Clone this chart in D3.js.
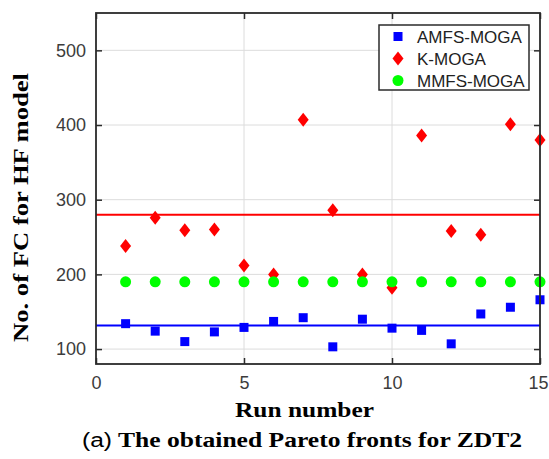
<!DOCTYPE html>
<html>
<head>
<meta charset="utf-8">
<script src="https://cdn.jsdelivr.net/npm/d3@7"></script>
<style>
  body { margin: 0; background: #fff; }
  svg { display: block; }
</style>
</head>
<body>
<svg id="chart" width="549" height="459"></svg>
<script>
// run numbers and values
const runs = [1, 2, 3, 4, 5, 6, 7, 8, 9, 10, 11, 12, 13, 14, 15];
const amfs = [134, 124, 110, 123, 129, 137, 142, 103, 140, 128, 125, 107, 147, 156, 166];
const kmoga = [238, 276, 259, 260, 212, 200, 407, 286, 200, 182, 386, 258, 253, 401, 380];
const mmfs = [190, 190, 190, 190, 190, 190, 190, 190, 190, 190, 190, 190, 190, 190, 190];
const xTicks = [0, 5, 10, 15];
const yTicks = [100, 200, 300, 400, 500];
const legendNames = ["AMFS-MOGA", "K-MOGA", "MMFS-MOGA"];

const plotL = 96, plotR = 540, plotT = 13, plotB = 364;
const svg = d3.select("#chart");

const x = d3.scaleLinear().domain([0, 15]).range([plotL, plotR]);
const y = d3.scaleLinear().domain([80, 550]).range([plotB, plotT]);

// grid
svg.append("g").selectAll("line")
  .data(yTicks)
  .join("line")
  .attr("x1", plotL).attr("x2", plotR)
  .attr("y1", d => y(d)).attr("y2", d => y(d))
  .attr("stroke", "#dcdcdc").attr("stroke-width", 1);
svg.append("g").selectAll("line")
  .data(xTicks.slice(1, -1))
  .join("line")
  .attr("x1", d => x(d)).attr("x2", d => x(d))
  .attr("y1", plotT).attr("y2", plotB)
  .attr("stroke", "#dcdcdc").attr("stroke-width", 1);

// axes, ticks pointing inward
const axisColor = "#2b2b2b";
const sans = "'Liberation Sans', Arial, sans-serif";
function styleAxis(g) {
  g.select(".domain").remove();
  g.selectAll(".tick line").attr("stroke", axisColor).attr("stroke-width", 1.5);
  g.selectAll(".tick text")
    .attr("fill", "#3c3c3c")
    .style("font-family", sans)
    .style("font-size", "18px");
}
svg.append("g")
  .attr("transform", `translate(${plotL},0)`)
  .call(d3.axisLeft(y).tickValues(yTicks).tickSizeInner(-6).tickSizeOuter(0).tickPadding(10))
  .call(styleAxis);
svg.append("g")
  .attr("transform", `translate(${plotR},0)`)
  .call(d3.axisRight(y).tickValues(yTicks).tickSizeInner(-6).tickSizeOuter(0).tickFormat(""))
  .call(styleAxis);
const xAxis = svg.append("g")
  .attr("transform", `translate(0,${plotB})`)
  .call(d3.axisBottom(x).tickValues(xTicks).tickSizeInner(-6).tickSizeOuter(0).tickPadding(12))
  .call(styleAxis);
// last label sits at the figure edge; keep it inside
xAxis.selectAll(".tick text").filter(d => d === 15)
  .attr("text-anchor", "end").attr("dx", 8);
svg.append("g")
  .attr("transform", `translate(0,${plotT})`)
  .call(d3.axisTop(x).tickValues(xTicks).tickSizeInner(-6).tickSizeOuter(0).tickFormat(""))
  .call(styleAxis);

// markers
svg.append("g").selectAll("rect")
  .data(runs)
  .join("rect")
  .attr("x", (d, i) => x(d) - 4.5)
  .attr("y", (d, i) => y(amfs[i]) - 4.5)
  .attr("width", 9).attr("height", 9)
  .attr("fill", "#0000ff");

svg.append("g").selectAll("path")
  .data(runs)
  .join("path")
  .attr("d", (d, i) => {
    const cx = x(d), cy = y(kmoga[i]);
    return `M${cx},${cy - 7}L${cx + 5.5},${cy}L${cx},${cy + 7}L${cx - 5.5},${cy}Z`;
  })
  .attr("fill", "#ff0000");

svg.append("g").selectAll("circle")
  .data(runs)
  .join("circle")
  .attr("cx", d => x(d))
  .attr("cy", (d, i) => y(mmfs[i]))
  .attr("r", 5.5)
  .attr("fill", "#00ff00");

// mean lines
svg.append("line")
  .attr("x1", plotL).attr("x2", plotR)
  .attr("y1", y(d3.mean(kmoga))).attr("y2", y(d3.mean(kmoga)))
  .attr("stroke", "#ff0000").attr("stroke-width", 2);
svg.append("line")
  .attr("x1", plotL).attr("x2", plotR)
  .attr("y1", y(d3.mean(amfs))).attr("y2", y(d3.mean(amfs)))
  .attr("stroke", "#0000ff").attr("stroke-width", 2);

// box
svg.append("rect")
  .attr("x", plotL).attr("y", plotT)
  .attr("width", plotR - plotL).attr("height", plotB - plotT)
  .attr("fill", "none")
  .attr("stroke", axisColor).attr("stroke-width", 1.8);

// legend
const lg = svg.append("g").attr("transform", "translate(379,25)");
lg.append("rect")
  .attr("width", 150).attr("height", 65)
  .attr("fill", "#fff")
  .attr("stroke", axisColor).attr("stroke-width", 1.5);
const rows = lg.selectAll("g.row")
  .data(legendNames)
  .join("g")
  .attr("class", "row")
  .attr("transform", (d, i) => `translate(19,${11.5 + i * 22})`);
rows.filter((d, i) => i === 0).append("rect")
  .attr("x", -4.5).attr("y", -4.5).attr("width", 9).attr("height", 9).attr("fill", "#0000ff");
rows.filter((d, i) => i === 1).append("path")
  .attr("d", "M0,-7L5.5,0L0,7L-5.5,0Z").attr("fill", "#ff0000");
rows.filter((d, i) => i === 2).append("circle")
  .attr("r", 5.5).attr("fill", "#00ff00");
rows.append("text")
  .attr("x", 19).attr("y", 6)
  .attr("fill", "#222")
  .style("font-family", sans)
  .style("font-size", "17px")
  .text(d => d);

// axis titles
const serif = "'Liberation Serif', 'Times New Roman', serif";
svg.append("text")
  .attr("x", 304.5).attr("y", 417)
  .attr("text-anchor", "middle")
  .attr("textLength", 139).attr("lengthAdjust", "spacingAndGlyphs")
  .style("font-family", serif).style("font-weight", "bold").style("font-size", "21px")
  .text("Run number");

svg.append("text")
  .attr("transform", "translate(28,207.5) rotate(-90)")
  .attr("text-anchor", "middle")
  .attr("textLength", 269).attr("lengthAdjust", "spacingAndGlyphs")
  .style("font-family", serif).style("font-weight", "bold").style("font-size", "22px")
  .text("No. of FC for HF model");

// caption
svg.append("text")
  .attr("x", 82).attr("y", 447)
  .attr("textLength", 30).attr("lengthAdjust", "spacingAndGlyphs")
  .style("font-family", sans).style("font-size", "20px")
  .text("(a)");
svg.append("text")
  .attr("x", 118).attr("y", 447)
  .attr("textLength", 404).attr("lengthAdjust", "spacingAndGlyphs")
  .style("font-family", serif).style("font-weight", "bold").style("font-size", "21px")
  .text("The obtained Pareto fronts for ZDT2");
</script>
</body>
</html>
